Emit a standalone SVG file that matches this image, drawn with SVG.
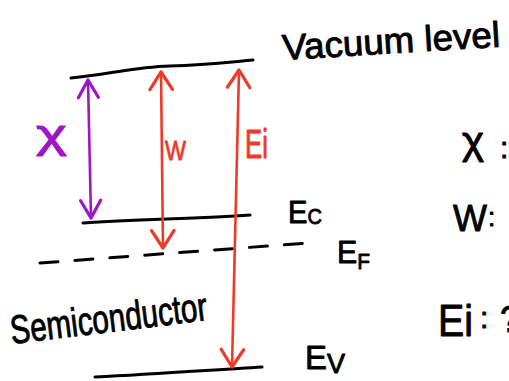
<svg xmlns="http://www.w3.org/2000/svg" width="509" height="381" viewBox="0 0 509 381">
<style>
.lvl{fill:none;stroke:#000;stroke-width:3;stroke-linecap:round}
.dash{fill:none;stroke:#000;stroke-width:3;stroke-linecap:round;stroke-dasharray:18 17}
.red{fill:none;stroke:#ee3a2a;stroke-width:2.6;stroke-linecap:round}
.pur{fill:none;stroke:#a015c8;stroke-width:2.6;stroke-linecap:round}
text{font-family:"Liberation Sans",Arial,sans-serif;stroke-width:0.9;stroke-linejoin:round}
.k{fill:#000;stroke:#000}
.r{fill:#ee3a2a;stroke:#ee3a2a}
.p{fill:#a015c8;stroke:#a015c8}
</style>
<defs>
<marker id="ar" markerUnits="userSpaceOnUse" markerWidth="30" markerHeight="30" viewBox="-16 -12 20 24" refX="0" refY="0" orient="auto-start-reverse">
<path d="M-14,-9 L0,0 L-14,9" fill="none" stroke="#ee3a2a" stroke-width="2.6" stroke-linecap="round" stroke-linejoin="round"/>
</marker>
<marker id="ap" markerUnits="userSpaceOnUse" markerWidth="30" markerHeight="30" viewBox="-16 -12 20 24" refX="0" refY="0" orient="auto-start-reverse">
<path d="M-14,-8 L0,0 L-14,8" fill="none" stroke="#a015c8" stroke-width="2.6" stroke-linecap="round" stroke-linejoin="round"/>
</marker>
</defs>
<g id="vacuum-level">
<path class="lvl" d="M71,78 C110,74 135,67 170,66 S230,62 253,60"/>
<text class="k" x="283" y="60" font-size="36" textLength="218" lengthAdjust="spacingAndGlyphs" transform="rotate(-3.5 283 60)">Vacuum level</text>
</g>
<g id="ec-level">
<path class="lvl" d="M83,223 C140,219 200,219 250,215"/>
<text class="k" x="288" y="223" font-size="32" textLength="34" lengthAdjust="spacingAndGlyphs">E<tspan font-size="22" dy="1">C</tspan></text>
</g>
<g id="ef-level">
<path class="dash" d="M40,263 L308,243"/>
<text class="k" x="337" y="263" font-size="32" textLength="33" lengthAdjust="spacingAndGlyphs">E<tspan font-size="22" dy="6">F</tspan></text>
</g>
<g id="ev-level">
<path class="lvl" d="M95,377 C160,374 210,370 262,367"/>
<text class="k" x="305" y="369" font-size="34" textLength="40" lengthAdjust="spacingAndGlyphs">E<tspan font-size="28" dy="4">V</tspan></text>
</g>
<g id="semiconductor">
<text class="k" x="12" y="344" font-size="40" textLength="198" lengthAdjust="spacingAndGlyphs" transform="rotate(-7 12 344)">Semiconductor</text>
</g>
<g id="connectors">
<path class="pur" d="M88,80 L91,218" marker-start="url(#ap)" marker-end="url(#ap)"/>
<path class="red" d="M161,72 L163,248" marker-start="url(#ar)" marker-end="url(#ar)"/>
<path class="red" d="M239,70 L232,367" marker-start="url(#ar)" marker-end="url(#ar)"/>
</g>
<g id="labels">
<text class="p" x="36" y="148" font-size="40" textLength="31" lengthAdjust="spacingAndGlyphs">χ</text>
<text class="r" x="165" y="160" font-size="27" textLength="21" lengthAdjust="spacingAndGlyphs">W</text>
<text class="r" x="245" y="158" font-size="40" textLength="23" lengthAdjust="spacingAndGlyphs">Ei</text>
</g>
<g id="legend">
<text class="k" x="462" y="154" font-size="38" textLength="22" lengthAdjust="spacingAndGlyphs">χ</text>
<text class="k" x="500" y="158" font-size="30">:</text>
<text class="k" x="453" y="231" font-size="36" textLength="34" lengthAdjust="spacingAndGlyphs">W</text>
<text class="k" x="488" y="226" font-size="26">:</text>
<text class="k" x="438" y="336" font-size="44" textLength="35" lengthAdjust="spacingAndGlyphs">Ei</text>
<text class="k" x="480" y="328" font-size="30">:</text>
<text class="k" x="500" y="332" font-size="36">?</text>
</g>
</svg>
